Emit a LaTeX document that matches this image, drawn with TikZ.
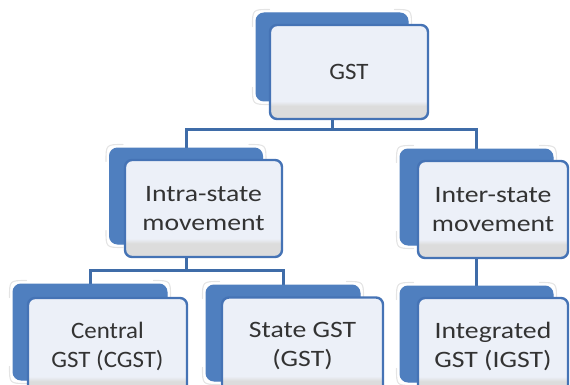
\documentclass[tikz,border=0pt]{standalone}
\usepackage{fontspec}
\setmainfont{Carlito}[FakeStretch=1.18]
\newfontfamily\narrowfam{Carlito}[FakeStretch=1.06]
\usetikzlibrary{calc}

\definecolor{backblue}{HTML}{4F7FBF}
\definecolor{boxline}{HTML}{4573B5}
\definecolor{connblue}{HTML}{3F6CA8}
\definecolor{frontfill}{HTML}{ECF0F8}
\definecolor{greyband}{HTML}{DCDCDC}
\definecolor{textgrey}{HTML}{333333}
\definecolor{glowgrey}{HTML}{E4E4E4}

% light face with a grey band along the bottom edge
\pgfdeclareverticalshading{boxshade}{100bp}{%
  color(0bp)=(greyband); color(32bp)=(greyband);
  color(34.5bp)=(frontfill); color(100bp)=(frontfill)}

\pgfdeclarelayer{bg}
\pgfsetlayers{bg,main}

\tikzset{
  frontbox/.style={draw=boxline, line width=2.4pt, rounded corners=7pt,
    shading=boxshade, align=center, text=textgrey, inner sep=0pt,
    font=\fontsize{23.5}{29.5}\selectfont},
  narrowtext/.style={font=\narrowfam\fontsize{23.5}{29.5}\selectfont},
  backbox/.style={fill=backblue, draw=backblue, line width=1pt,
    rounded corners=8pt, inner sep=0pt},
  conn/.style={draw=connblue, line width=3pt},
  glow/.style={draw=glowgrey, line width=1.1pt, line cap=round}
}

% soft highlight arcs round three corners of a back panel
\newcommand\cornerglow[1]{%
  \draw[glow] ($(#1.north west)+(-3,14)$) .. controls ($(#1.north west)+(-3,-3)$) .. ($(#1.north west)+(14,-3)$);
  \draw[glow] ($(#1.north east)+(-14,-3)$) .. controls ($(#1.north east)+(3,-3)$) .. ($(#1.north east)+(3,14)$);
  \draw[glow] ($(#1.south west)+(-3,-14)$) .. controls ($(#1.south west)+(-3,3)$) .. ($(#1.south west)+(14,3)$);
}

\begin{document}
\begin{tikzpicture}[x=1pt, y=-1pt]
\path[use as bounding box, clip] (0,0) rectangle (570,385);

% back panels
\node[backbox, minimum width=152pt, minimum height=88pt] (gstb)     at (332,57)    {};
\node[backbox, minimum width=153pt, minimum height=96pt] (intrab)   at (186,196)   {};
\node[backbox, minimum width=153pt, minimum height=96pt] (interb)   at (476.5,197) {};
\node[backbox, minimum width=154pt, minimum height=96pt] (centralb) at (90,332)    {};
\node[backbox, minimum width=154pt, minimum height=96pt] (stateb)   at (283,333)   {};
\node[backbox, minimum width=153pt, minimum height=96pt] (integb)   at (476.5,334) {};

\cornerglow{gstb}
\cornerglow{intrab}
\cornerglow{interb}
\cornerglow{centralb}
\cornerglow{stateb}
\cornerglow{integb}

% front boxes
\node[frontbox, narrowtext, minimum width=158pt, minimum height=94pt]  (gst)     at (349,72)    {GST};
\node[frontbox, minimum width=157pt, minimum height=97pt]  (intra)   at (203.5,208.5) {Intra-state\\movement};
\node[frontbox, minimum width=150pt, minimum height=97pt]  (inter)   at (493,209.5) {Inter-state\\movement};
\node[frontbox, narrowtext, minimum width=159pt, minimum height=97pt]  (central) at (107.5,346.5) {Central\\GST (CGST)};
\node[frontbox, minimum width=161pt, minimum height=97pt]  (state)   at (302.5,346) {State GST\\(GST)};
\node[frontbox, minimum width=150pt, minimum height=97pt]  (integ)   at (493,346.5) {Integrated\\GST (IGST)};

% connectors
\coordinate (j1) at (332,130);
\coordinate (j2) at (186,270);
\begin{pgfonlayer}{bg}
\draw[conn] (gst.south -| gstb.center) -- (j1);
\draw[conn] (intrab.north) |- (j1) -| (interb.north);
\draw[conn] (intra.south -| intrab.center) -- (j2);
\draw[conn] (centralb.north) |- (j2) -| (stateb.north);
\draw[conn] (inter.south -| interb.center) -- (integb.north);
\end{pgfonlayer}
\end{tikzpicture}
\end{document}
